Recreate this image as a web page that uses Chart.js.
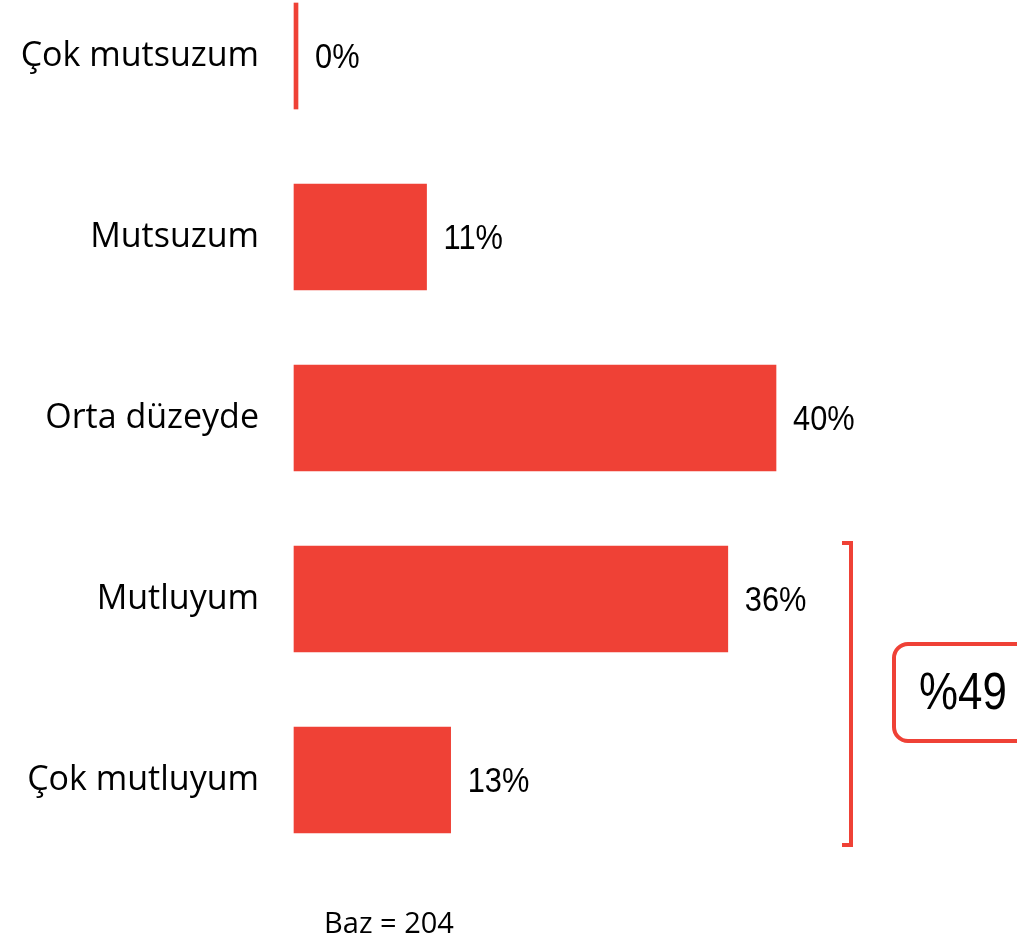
<!DOCTYPE html>
<html>
<head>
<meta charset="utf-8">
<script src="https://cdn.jsdelivr.net/npm/chart.js@4/dist/chart.umd.min.js"></script>
<style>
  html, body { margin: 0; padding: 0; background: #fff; }
  canvas { display: block; }
</style>
</head>
<body>
<canvas id="chartCanvas" width="1017" height="939"></canvas>
<script>
const categories = ["Çok mutsuzum", "Mutsuzum", "Orta düzeyde", "Mutluyum", "Çok mutluyum"];
const values = [0, 11, 40, 36, 13];
const groupIdx = [3, 4]; // bracketed rows
const baseText = "Baz = 204";

const red = '#EF4136';
const labelFont = "'Open Sans', 'DejaVu Sans', sans-serif";
const numFont = "'Liberation Sans', Arial, sans-serif";

// narrow-looking text: squeeze horizontally
function narrowText(ctx, text, x, y, sx) {
    ctx.save();
    ctx.translate(x, y);
    ctx.scale(sx, 1);
    ctx.fillText(text, 0, 0);
    ctx.restore();
}

// value labels next to each bar
const valueLabels = {
    id: 'valueLabels',
    afterDatasetsDraw(chart) {
        const ctx = chart.ctx;
        const meta = chart.getDatasetMeta(0);
        ctx.save();
        ctx.fillStyle = '#000';
        ctx.font = `35px ${numFont}`;
        ctx.textAlign = 'left';
        ctx.textBaseline = 'middle';
        meta.data.forEach((bar, i) => {
            narrowText(ctx, values[i] + '%', bar.x + 17, bar.y + 2, 0.88);
        });
        ctx.restore();
    }
};

// bracket + total box + base note
const extras = {
    id: 'extras',
    afterDraw(chart) {
        const ctx = chart.ctx;
        const y = chart.scales.y;
        const top = y.getPixelForValue(groupIdx[0]) - 56;
        const bottom = y.getPixelForValue(groupIdx[1]) + 65;
        const bx = 851;
        ctx.save();
        ctx.strokeStyle = red;
        ctx.lineWidth = 4;
        ctx.beginPath();
        ctx.moveTo(842, top);
        ctx.lineTo(bx, top);
        ctx.lineTo(bx, bottom);
        ctx.lineTo(842, bottom);
        ctx.stroke();

        // total box
        const total = groupIdx.reduce((s, i) => s + values[i], 0);
        const midY = (top + bottom) / 2 - 1;
        ctx.beginPath();
        ctx.roundRect(894, midY - 49, 140, 97, 14);
        ctx.stroke();
        ctx.fillStyle = '#000';
        ctx.font = `51px ${numFont}`;
        ctx.textAlign = 'left';
        ctx.textBaseline = 'middle';
        narrowText(ctx, '%' + total, 919, midY + 2, 0.86);

        // base
        ctx.font = `29px ${labelFont}`;
        ctx.textAlign = 'center';
        ctx.textBaseline = 'alphabetic';
        ctx.fillText(baseText, 389, 933);
        ctx.restore();
    }
};

new Chart(document.getElementById('chartCanvas'), {
    type: 'bar',
    data: {
        labels: categories,
        datasets: [{
            data: values,
            backgroundColor: red,
            borderWidth: 0,
            barThickness: 106,
            minBarLength: 4,
            clip: false
        }]
    },
    options: {
        indexAxis: 'y',
        responsive: false,
        animation: false,
        layout: { padding: { top: 56, bottom: 159, left: 0, right: 0 } },
        plugins: { legend: { display: false }, tooltip: { enabled: false } },
        scales: {
            x: { display: false, min: 0, max: 60 },
            y: {
                offset: false,
                grid: { display: false, drawTicks: false },
                border: { display: false },
                ticks: {
                    color: '#000',
                    padding: 35,
                    font: { family: labelFont, size: 34 }
                },
                afterFit(scale) { scale.width = 294; }
            }
        }
    },
    plugins: [valueLabels, extras]
});
</script>
</body>
</html>
